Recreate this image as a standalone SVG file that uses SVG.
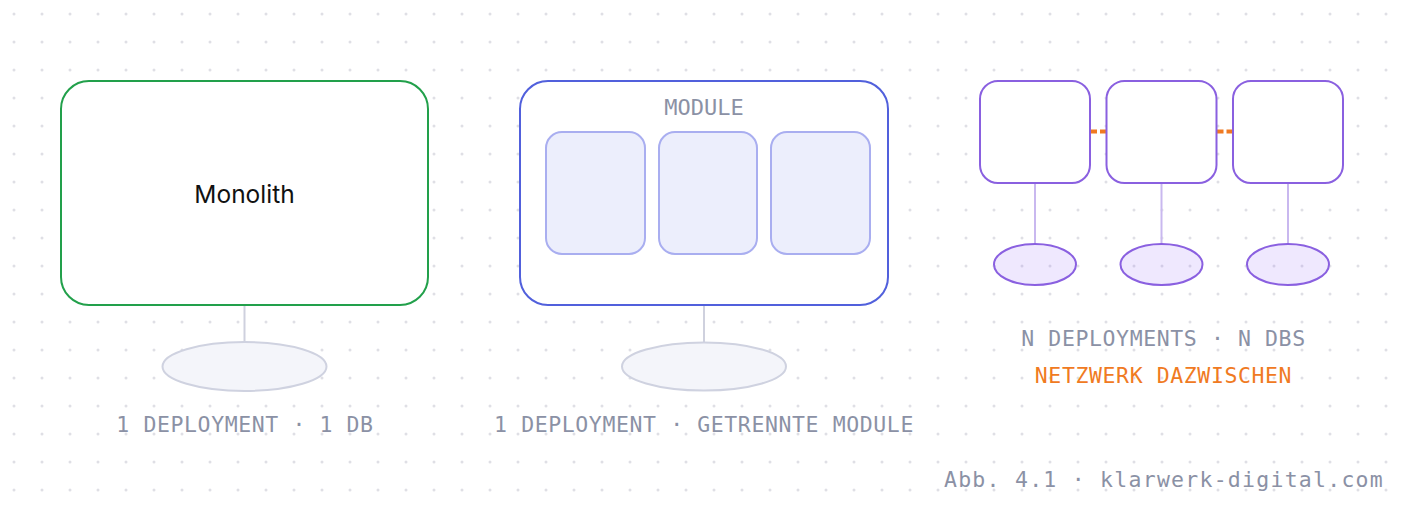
<svg xmlns="http://www.w3.org/2000/svg" width="1408" height="510" viewBox="0 0 1408 510">
  <defs>
    <pattern id="dots" x="0" y="0" width="28" height="28" patternUnits="userSpaceOnUse">
      <circle cx="14" cy="14" r="1.5" fill="#dfdfe5"/>
    </pattern>
    <style>
      .mono { font-family: "DejaVu Sans Mono", "Liberation Mono", monospace; fill: #8b91a5; }
      .lbl { font-size: 21.5px; letter-spacing: 0.6px; text-anchor: middle; }
      .link { stroke: #cfd1de; stroke-width: 2; fill: none; }
      .db { fill: #f4f5fa; stroke: #cfd2e0; stroke-width: 2; }
      .mod { fill: #eceefc; stroke: #a9aef0; stroke-width: 2; }
      .svc { fill: #ffffff; stroke: #8a60e0; stroke-width: 2; }
      .svcdb { fill: #8b5cf6; fill-opacity: 0.14; stroke: #8a60e0; stroke-width: 2; }
      .svclink { stroke: #c9b8ef; stroke-width: 2; fill: none; }
      .net { stroke: #f07a22; stroke-width: 4; stroke-dasharray: 7 3; fill: none; }
    </style>
  </defs>
  <rect x="0" y="0" width="1408" height="510" fill="#ffffff"/>
  <rect x="0" y="0" width="1408" height="510" fill="url(#dots)"/>

  <g id="connectors">
    <line class="link" x1="244.5" y1="305" x2="244.5" y2="342"/>
    <line class="link" x1="704" y1="305" x2="704" y2="342"/>
    <line class="svclink" x1="1035" y1="183" x2="1035" y2="244"/>
    <line class="svclink" x1="1161.5" y1="183" x2="1161.5" y2="244"/>
    <line class="svclink" x1="1288" y1="183" x2="1288" y2="244"/>
    <line class="net" x1="1090" y1="131.5" x2="1106.5" y2="131.5"/>
    <line class="net" x1="1216.5" y1="131.5" x2="1233" y2="131.5"/>
  </g>

  <g id="monolith">
    <rect x="61" y="81" width="367" height="224" rx="28" fill="#ffffff" stroke="#22a04b" stroke-width="2"/>
    <text x="244.5" y="202.5" font-family="Inter, 'Noto Sans', sans-serif" font-size="24.5" fill="#111111" text-anchor="middle">Monolith</text>
  </g>
  <g id="monolith-db">
    <ellipse class="db" cx="244.5" cy="366.5" rx="82" ry="24.5"/>
  </g>
  <g id="label-monolith">
    <text class="mono lbl" x="245" y="432">1 DEPLOYMENT · 1 DB</text>
  </g>

  <g id="modulith">
    <rect x="520" y="81" width="368" height="224" rx="28" fill="#ffffff" stroke="#5160dc" stroke-width="2"/>
    <text class="mono" x="704" y="115" font-size="22" text-anchor="middle">MODULE</text>
  </g>
  <g id="module-1"><rect class="mod" x="546" y="132" width="99" height="122" rx="16"/></g>
  <g id="module-2"><rect class="mod" x="659" y="132" width="98" height="122" rx="16"/></g>
  <g id="module-3"><rect class="mod" x="771" y="132" width="99" height="122" rx="16"/></g>
  <g id="modulith-db">
    <ellipse class="db" cx="704" cy="366.5" rx="82" ry="24"/>
  </g>
  <g id="label-modulith">
    <text class="mono lbl" x="704" y="432">1 DEPLOYMENT · GETRENNTE MODULE</text>
  </g>

  <g id="service-1"><rect class="svc" x="980" y="81" width="110" height="102" rx="18"/></g>
  <g id="service-2"><rect class="svc" x="1106.5" y="81" width="110" height="102" rx="18"/></g>
  <g id="service-3"><rect class="svc" x="1233" y="81" width="110" height="102" rx="18"/></g>
  <g id="service-db-1"><ellipse class="svcdb" cx="1035" cy="264.5" rx="41" ry="20.5"/></g>
  <g id="service-db-2"><ellipse class="svcdb" cx="1161.5" cy="264.5" rx="41" ry="20.5"/></g>
  <g id="service-db-3"><ellipse class="svcdb" cx="1288" cy="264.5" rx="41" ry="20.5"/></g>
  <g id="label-services">
    <text class="mono lbl" x="1163.5" y="345.5">N DEPLOYMENTS · N DBS</text>
    <text class="mono lbl" x="1163.5" y="382.5" style="fill:#f07a22">NETZWERK DAZWISCHEN</text>
  </g>

  <g id="footer">
    <text class="mono" x="1384" y="487" font-size="21.5" letter-spacing="1.25" text-anchor="end">Abb. 4.1 · klarwerk-digital.com</text>
  </g>
</svg>
